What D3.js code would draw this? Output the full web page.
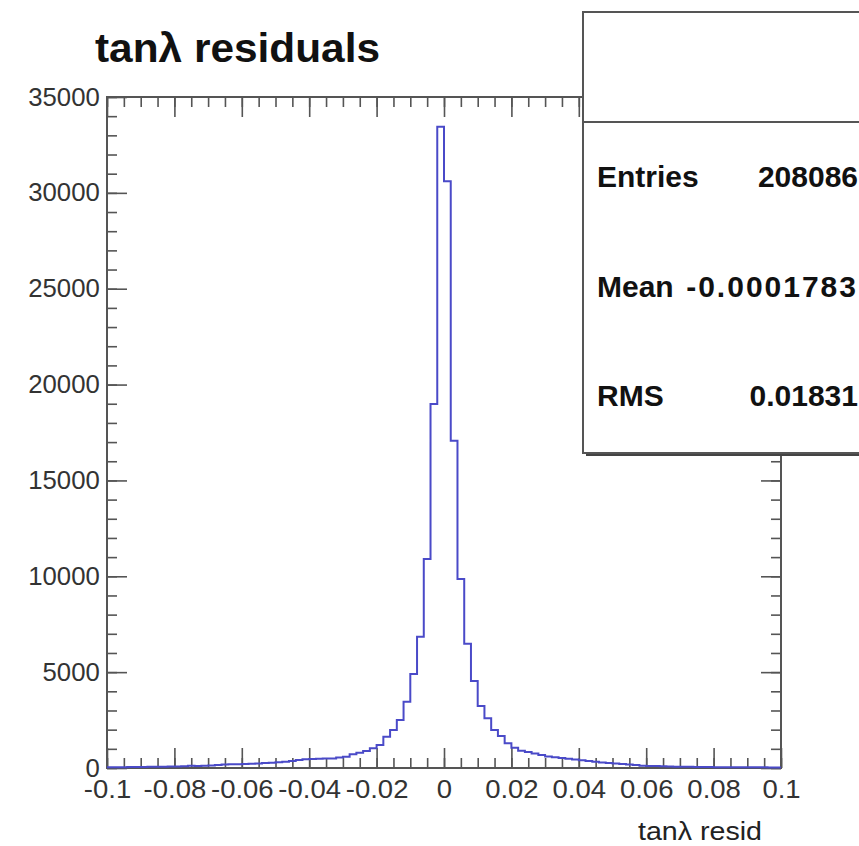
<!DOCTYPE html>
<html>
<head>
<meta charset="utf-8">
<script src="https://cdn.jsdelivr.net/npm/d3@7"></script>
<style>
  body { margin: 0; background: #fff; }
  svg { display: block; font-family: "Liberation Sans", Arial, Helvetica, sans-serif; }
</style>
</head>
<body>
<script>
// histogram: 100 bins of width 0.002 from -0.1 to 0.1 (low edges)
const binLow = d3.range(100).map(i => +(-0.1 + i * 0.002).toFixed(3));
const binCounts = [
  40, 45, 45, 50, 55, 55, 60, 65, 70, 75,
  80, 90, 120, 110, 120, 130, 150, 180, 190, 200,
  210, 220, 240, 260, 280, 300, 330, 370, 420, 450,
  470, 480, 490, 500, 550, 590, 720, 800, 890, 1030,
  1200, 1630, 1980, 2500, 3460, 4900, 6850, 10900, 18990, 33450,
  30600, 17070, 9860, 6480, 4540, 3230, 2590, 1980, 1670, 1290,
  1060, 900, 830, 760, 680, 600, 560, 520, 480, 440,
  410, 370, 330, 290, 260, 240, 210, 180, 150, 120,
  110, 100, 90, 80, 70, 65, 60, 55, 50, 50,
  45, 45, 40, 40, 40, 35, 35, 35, 30, 30
];
const xMajor = d3.range(-10, 11, 2).map(v => v / 100);
const xMinor = d3.range(-20, 21, 1).map(v => v / 200);
const yMajor = d3.range(0, 35001, 5000);
const yMinor = d3.range(0, 35001, 1000);
const statLabels = ["Entries", "Mean", "RMS"];
const statValues = ["208086", "-0.0001783", "0.01831"];

const W = 859, H = 846;
const frame = { left: 107, right: 781, top: 97, bottom: 768 };

const svg = d3.select("body").append("svg")
  .attr("width", W).attr("height", H);

const x = d3.scaleLinear().domain([-0.1, 0.1]).range([frame.left, frame.right]);
const y = d3.scaleLinear().domain([0, 35000]).range([frame.bottom, frame.top]);

const axisColor = "#555";
const fmtX = d => d === 0 ? "0" : String(+d.toFixed(2));

function styleAxis(g) {
  g.select(".domain").remove();
  g.selectAll("line").attr("stroke", axisColor).attr("stroke-width", 1.6);
  g.selectAll("text").attr("fill", "#333").attr("font-size", 25);
}

// minor ticks
svg.append("g").attr("transform", `translate(0,${frame.bottom})`)
  .call(d3.axisBottom(x).tickValues(xMinor).tickSize(-10).tickFormat(""))
  .call(styleAxis);
svg.append("g").attr("transform", `translate(0,${frame.top})`)
  .call(d3.axisTop(x).tickValues(xMinor).tickSize(-10).tickFormat(""))
  .call(styleAxis);
svg.append("g").attr("transform", `translate(${frame.left},0)`)
  .call(d3.axisLeft(y).tickValues(yMinor).tickSize(-10).tickFormat(""))
  .call(styleAxis);
svg.append("g").attr("transform", `translate(${frame.right},0)`)
  .call(d3.axisRight(y).tickValues(yMinor).tickSize(-10).tickFormat(""))
  .call(styleAxis);

// major ticks + labels
svg.append("g").attr("transform", `translate(0,${frame.bottom})`)
  .call(d3.axisBottom(x).tickValues(xMajor).tickSize(-20).tickPadding(12).tickFormat(fmtX))
  .call(styleAxis)
  .call(g => g.selectAll("text").attr("transform", "scale(1.1,1)"));
svg.append("g").attr("transform", `translate(0,${frame.top})`)
  .call(d3.axisTop(x).tickValues(xMajor).tickSize(-20).tickFormat(""))
  .call(styleAxis);
svg.append("g").attr("transform", `translate(${frame.left},0)`)
  .call(d3.axisLeft(y).tickValues(yMajor).tickSize(-20).tickPadding(7).tickFormat(d3.format("d")))
  .call(styleAxis)
  .call(g => g.selectAll("text").attr("transform", "scale(1.03,1)"));
svg.append("g").attr("transform", `translate(${frame.right},0)`)
  .call(d3.axisRight(y).tickValues(yMajor).tickSize(-20).tickFormat(""))
  .call(styleAxis);

// frame
svg.append("rect")
  .attr("x", frame.left).attr("y", frame.top)
  .attr("width", frame.right - frame.left).attr("height", frame.bottom - frame.top)
  .attr("fill", "none").attr("stroke", axisColor).attr("stroke-width", 2);

// histogram outline
const pts = binLow.map((lo, i) => [lo, binCounts[i]]);
pts.push([0.1, binCounts[binCounts.length - 1]]);
const step = d3.line().x(d => x(d[0])).y(d => y(d[1])).curve(d3.curveStepAfter);
svg.append("path").datum(pts)
  .attr("fill", "none").attr("stroke", "#4a4ac8").attr("stroke-width", 2)
  .attr("d", step);

// title
svg.append("text")
  .attr("transform", "translate(95,62) scale(1.06,1)")
  .attr("font-size", 40).attr("font-weight", "bold").attr("fill", "#111")
  .text("tanλ residuals");

// x axis title
svg.append("text")
  .attr("transform", "translate(762,840) scale(1.1,1)")
  .attr("text-anchor", "end")
  .attr("font-size", 26).attr("fill", "#222")
  .text("tanλ resid");

// stats box
const box = { x: 583, y: 12, w: 290, h: 441 };
svg.append("rect")
  .attr("x", box.x + 3).attr("y", box.y + 3).attr("width", box.w).attr("height", box.h)
  .attr("fill", "#444");
svg.append("rect")
  .attr("x", box.x).attr("y", box.y).attr("width", box.w).attr("height", box.h)
  .attr("fill", "#fff").attr("stroke", axisColor).attr("stroke-width", 2);
svg.append("line")
  .attr("x1", box.x).attr("x2", box.x + box.w).attr("y1", 122).attr("y2", 122)
  .attr("stroke", axisColor).attr("stroke-width", 2);

const statY = d3.scalePoint().domain(statLabels).range([187, 406]);
const stats = svg.append("g").attr("font-size", 30).attr("font-weight", "bold").attr("fill", "#111");
stats.selectAll("text.lab").data(statLabels).join("text")
  .attr("class", "lab").attr("x", 597).attr("y", d => statY(d))
  .text(d => d);
stats.selectAll("text.val").data(statValues).join("text")
  .attr("class", "val").attr("x", 858).attr("y", (d, i) => statY(statLabels[i]))
  .attr("text-anchor", "end")
  .attr("letter-spacing", d => d.length > 8 ? 2 : 0)
  .text(d => d);
</script>
</body>
</html>
